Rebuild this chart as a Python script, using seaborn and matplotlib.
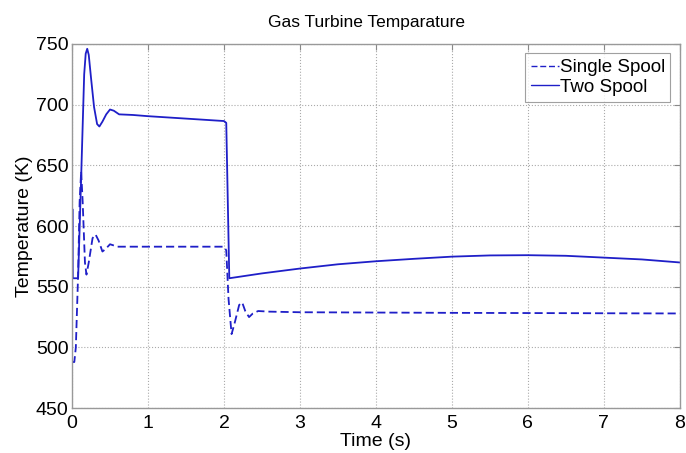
import matplotlib
matplotlib.use("Agg")
import matplotlib.pyplot as plt
import seaborn as sns
import pandas as pd
from matplotlib.lines import Line2D

# Data
t_single = [0, 0.03, 0.05, 0.08, 0.10, 0.12, 0.14, 0.17, 0.19, 0.22, 0.27, 0.31, 0.35, 0.40,
            0.44, 0.50, 0.55, 0.60, 2.00, 2.03, 2.06, 2.10, 2.14, 2.20, 2.24, 2.28, 2.33,
            2.38, 2.45, 2.60, 3.0, 5.0, 8.0]
T_single = [488, 488, 500, 560, 620, 645, 620, 570, 560, 570, 590, 593, 588, 579,
            581, 585, 584, 583, 583, 580, 540, 511, 520, 535, 537, 530, 525,
            528, 530, 529.5, 529, 528.5, 528]

t_two = [0, 0.005, 0.01, 0.08, 0.12, 0.16, 0.18, 0.20, 0.22, 0.25, 0.29, 0.33, 0.36, 0.40,
         0.45, 0.50, 0.55, 0.62, 0.80, 1.0, 1.5, 2.0, 2.03, 2.07, 2.5, 3.0, 3.5, 4.0, 4.5,
         5.0, 5.5, 6.0, 6.5, 7.0, 7.5, 8.0]
T_two = [557, 614, 557, 557, 640, 725, 742, 746, 741, 722, 698, 684, 682, 686,
         692, 696, 695, 692, 691.5, 690.5, 688.5, 686.5, 685, 557, 561, 565, 568.5, 571, 573,
         574.8, 575.8, 576, 575.5, 574, 572.5, 570]

series_names = ["Single Spool", "Two Spool"]
x_ticks = [0, 1, 2, 3, 4, 5, 6, 7, 8]
y_ticks = [450, 500, 550, 600, 650, 700, 750]

df = pd.concat([
    pd.DataFrame({"Time": t_single, "Temp": T_single, "Series": series_names[0]}),
    pd.DataFrame({"Time": t_two, "Temp": T_two, "Series": series_names[1]}),
])

sns.set_style("white")
plt.rcParams["font.family"] = ["Liberation Sans", "DejaVu Sans"]
plt.rcParams["text.color"] = "black"
plt.rcParams["axes.labelcolor"] = "black"
plt.rcParams["xtick.color"] = "black"
plt.rcParams["ytick.color"] = "black"

fig = plt.figure(figsize=(6.86, 4.53), dpi=100)
ax = fig.add_axes([0.105, 0.099, 0.886, 0.804])

color = "#1f1fc8"
sns.lineplot(data=df, x="Time", y="Temp", hue="Series", style="Series",
             palette={series_names[0]: color, series_names[1]: color},
             dashes={series_names[0]: (4.5, 2.2), series_names[1]: ""},
             sort=False, estimator=None, units="Series", linewidth=1.3, ax=ax, legend=False)

ax.set_xlim(0, 8)
ax.set_ylim(450, 750)
ax.set_xticks(x_ticks)
ax.set_yticks(y_ticks)
ax.tick_params(direction="in", labelsize=14, length=4, color="#888888", top=True, right=True,
               labelcolor="black")
ax.tick_params(axis="x", pad=5)
ax.tick_params(axis="y", pad=2.5)
ax.grid(True, linestyle=":", color="#aaaaaa", linewidth=0.8)
for s in ax.spines.values():
    s.set_color("#999999")
    s.set_linewidth(1.0)

ax.set_title("Gas Turbine Temparature", fontsize=12.5, pad=12, color="black", x=0.485)
ax.set_xlabel("Time (s)", fontsize=14, labelpad=1, color="black")
ax.set_ylabel("Temperature (K)", fontsize=14, labelpad=2, color="black")

handles = [Line2D([0], [0], color=color, lw=1.0, linestyle=(0, (4.3, 2))),
           Line2D([0], [0], color=color, lw=1.0)]
leg = ax.legend(handles, series_names, loc="upper right", fontsize=13.5, frameon=True,
                fancybox=False, edgecolor="#888888", handlelength=1.5, handletextpad=0.05,
                borderpad=0.3, labelspacing=0.15, borderaxespad=0.5)
leg.get_frame().set_linewidth(0.8)
for txt in leg.get_texts():
    txt.set_color("black")

fig.savefig("out.png", dpi=100)
